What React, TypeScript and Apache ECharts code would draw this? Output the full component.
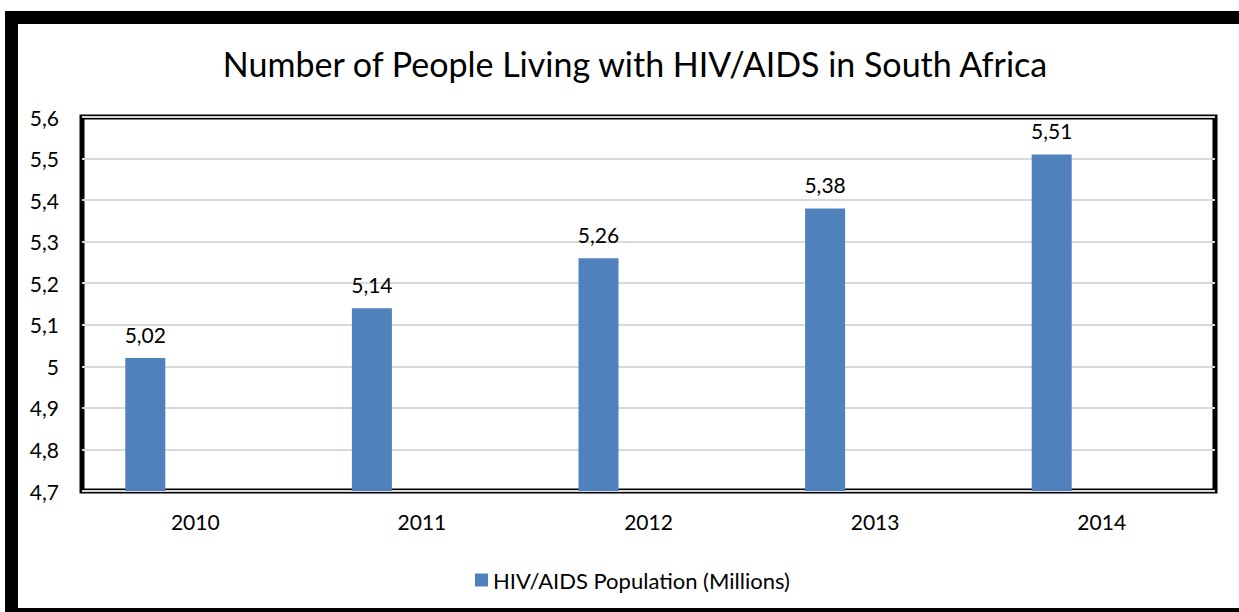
import React, { useEffect, useRef } from "react";
import * as echarts from "echarts";

const categories: string[] = ["2010", "2011", "2012", "2013", "2014"];
const hivPopulation: number[] = [5.02, 5.14, 5.26, 5.38, 5.51];
const emptySeries: (number | null)[] = [null, null, null, null, null];
const seriesName = "HIV/AIDS Population (Millions)";
const chartTitle = "Number of People Living with HIV/AIDS in South Africa";

const FONT = "Lato, 'Open Sans', sans-serif";

export default function App() {
  const ref = useRef<HTMLDivElement>(null);
  useEffect(() => {
    if (!ref.current) return;
    const chart = echarts.init(ref.current, undefined, { renderer: "svg" });
    chart.setOption({
      animation: false,
      backgroundColor: "#ffffff",
      textStyle: { fontFamily: FONT },
      title: {
        text: chartTitle,
        left: 630,
        top: 41,
        textAlign: "center",
        textStyle: { fontFamily: FONT, fontSize: 34, fontWeight: "normal", color: "#000" },
      },
      legend: {
        data: [seriesName],
        left: 470,
        top: 564,
        itemWidth: 13,
        itemHeight: 13,
        itemGap: 8,
        icon: "rect",
        textStyle: { fontFamily: FONT, fontSize: 22, color: "#000" },
      },
      grid: {
        left: 82,
        top: 117,
        width: 1133,
        height: 374,
        show: true,
        borderColor: "#000",
        borderWidth: 5,
        backgroundColor: "transparent",
      },
      xAxis: {
        type: "category",
        data: categories,
        axisLine: { show: false },
        axisTick: { show: false },
        axisLabel: { fontFamily: FONT, fontSize: 21, color: "#000", margin: 20 },
      },
      yAxis: {
        type: "value",
        min: 4.7,
        max: 5.6,
        interval: 0.1,
        axisLine: { show: false },
        axisTick: { show: false },
        splitLine: { lineStyle: { color: "#d9d9d9", width: 2 } },
        axisLabel: {
          fontFamily: FONT,
          fontSize: 21,
          color: "#000",
          margin: 23,
          formatter: (v: number) => String(Math.round(v * 10) / 10).replace(".", ","),
        },
      },
      series: [
        {
          name: seriesName,
          type: "bar",
          data: hivPopulation,
          barWidth: 40,
          barGap: "150%",
          itemStyle: { color: "#4f81bd" },
          label: {
            show: true,
            position: "top",
            distance: 13,
            fontFamily: FONT,
            fontSize: 21,
            color: "#000",
            formatter: (p: any) => Number(p.value).toFixed(2).replace(".", ","),
          },
        },
        {
          name: "empty",
          type: "bar",
          data: emptySeries,
          barWidth: 40,
          itemStyle: { color: "#c0504d" },
        },
      ],
      graphic: [
        {
          type: "rect",
          shape: { x: 11.5, y: 17.5, width: 1250, height: 597 },
          style: { fill: "none", stroke: "#000", lineWidth: 13 },
          z: 100,
        },
      ],
    });
    return () => chart.dispose();
  }, []);
  return (
    <div
      ref={ref}
      style={{ position: "absolute", left: 0, top: 0, width: 1239, height: 612 }}
    />
  );
}
